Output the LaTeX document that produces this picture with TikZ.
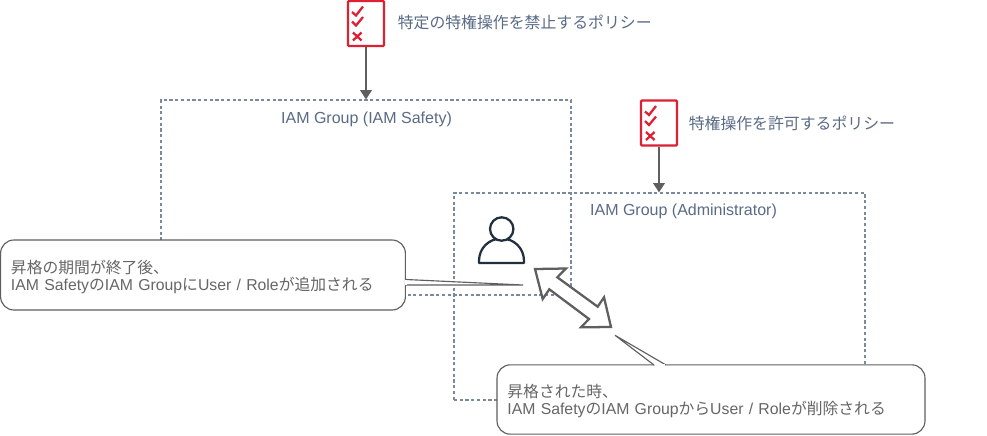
\documentclass[tikz,border=0pt]{standalone}
\usepackage{fontspec}
\setmainfont{Liberation Sans}
\newfontfamily\cjkfont{Noto Sans CJK JP}
\usetikzlibrary{arrows.meta}
\newcommand{\jp}[1]{{\cjkfont #1}}
\definecolor{awsslate}{HTML}{5A6B86}
\definecolor{awsred}{HTML}{DD2033}
\definecolor{awsnavy}{HTML}{232F3E}
\definecolor{notegray}{HTML}{666666}
\definecolor{linegray}{HTML}{5F5F5F}
\tikzset{
  groupbox/.style={draw=awsslate!80,line width=0.8pt,dash pattern=on 2.4pt off 1.9pt,inner sep=0pt},
  grouplabel/.style={text=awsslate,font=\fontsize{12}{14}\selectfont},
  policylabel/.style={text=awsslate,anchor=west,inner sep=0pt,font=\fontsize{11.9}{14}\selectfont},
  policybox/.style={draw=awsred,line width=1.7pt,rounded corners=0.8pt,minimum width=27pt,minimum height=33.75pt,inner sep=0pt},
  policyarrow/.style={draw=linegray,line width=1.7pt,-{Triangle[length=7pt,width=8.5pt]}},
  notebox/.style={draw=linegray,fill=white,line width=0.85pt,rounded corners=10pt,inner ysep=0pt,inner xsep=7.8pt,align=left,text=notegray,font=\fontsize{11.85}{13.5}\selectfont},
  noteline/.style={draw=linegray,line width=0.85pt},
  policyicon/.pic={
    \node[policybox] (box) at (0,0) {};
    \draw[awsred,line width=1.7pt] (-14,-11.5) -- (-10,-8) -- (-3,-17);
    \draw[awsred,line width=1.7pt] (-14,-2) -- (-10,2) -- (-3,-6.5);
    \draw[awsred,line width=1.7pt] (-13,9) -- (-4.5,17) (-4.5,9) -- (-13,17);
  }
}
\begin{document}
\begin{tikzpicture}[x=0.75pt,y=-0.75pt]
  \useasboundingbox (0,0) rectangle (987,435);
  \fill[white] (0,0) rectangle (987,435);

  % groups
  \node[groupbox,minimum width=307.5pt,minimum height=146.25pt] (safetygroup) at (366,197.5) {};
  \node[groupbox,minimum width=308.25pt,minimum height=155.25pt] (admingroup) at (659.5,296.5) {};
  \node[grouplabel] (safetylabel) at (366.5,119) {IAM Group (IAM Safety)};
  \node[grouplabel] (adminlabel) at (683.5,211.5) {IAM Group (Administrator)};

  % policies
  \pic (denypolicy) at (366,23.5) {policyicon};
  \pic (allowpolicy) at (659,123) {policyicon};
  \node[policylabel] (denylabel) at (397.5,22) {\jp{特定の特権操作を禁止するポリシー}};
  \node[policylabel] (allowlabel) at (688.5,123) {\jp{特権操作を許可するポリシー}};
  \draw[policyarrow] (denypolicybox.south) -- (denypolicybox.south |- safetygroup.north);
  \draw[policyarrow] (allowpolicybox.south) -- (allowpolicybox.south |- admingroup.north);

  % user
  \draw[awsnavy,line width=1.7pt,line join=round] (479,263) -- (524,263) -- (524,261)
    .. controls (524,248) and (514,238.5) .. (501.5,238.5)
    .. controls (489,238.5) and (479,248) .. (479,261) -- cycle;
  \draw[awsnavy,fill=white,line width=1.7pt] (501.7,229) circle[radius=11.7];

  % promotion
  \draw[linegray,fill=white,line width=1.7pt,line join=miter]
    (535,269) -- (566,268.5) -- (557.3,277.3) -- (597.7,306.7) -- (604,297.3) -- (611,327)
    -- (581,327.3) -- (589,319) -- (549.3,289.3) -- (542.7,299) -- cycle;

  % notes
  \node[notebox,text width=288pt,minimum height=52.5pt] (leftnote) at (203,275)
    {\rule{0pt}{12.5pt}\jp{昇格の期間が終了後、}\\[-0.8pt]IAM Safety\jp{の}IAM Group\jp{に}User / Role\jp{が追加される}};
  \node[notebox,text width=305.4pt,minimum height=52pt] (bottomnote) at (711,399.5)
    {\rule{0pt}{12.5pt}\jp{昇格された時、}\\[-0.8pt]IAM Safety\jp{の}IAM Group\jp{から}User / Role\jp{が削除される}};
  \coordinate (lefttip) at (523,285);
  \coordinate (bottomtip) at (615,335.3);
  \draw[noteline,fill=white] (leftnote.east |- 0,279.5) -- (lefttip) -- (leftnote.east |- 0,285);
  \draw[white,line width=1pt] (leftnote.east |- 0,280) -- (leftnote.east |- 0,284.6);
  \draw[noteline,fill=white] (654,365) -- (bottomtip) -- (666,365);
  \draw[white,line width=1pt] (654.6,365) -- (665.4,365);
\end{tikzpicture}
\end{document}
